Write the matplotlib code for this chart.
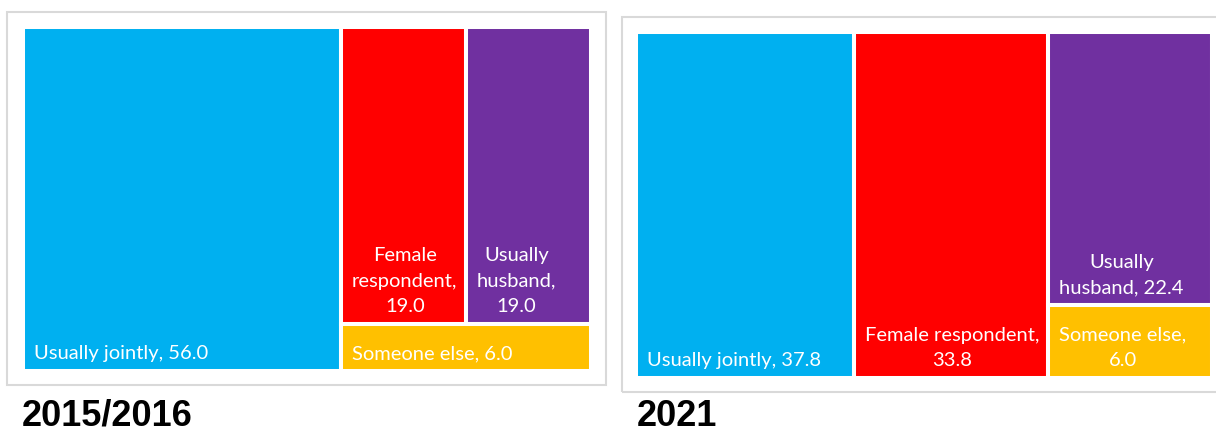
"""
Treemaps: who decides, 2015/2016 vs 2021
"""
import matplotlib

matplotlib.use("Agg")
import matplotlib.pyplot as plt
from matplotlib.patches import Rectangle

# 数据
labels = ["Usually jointly", "Female respondent", "Usually husband", "Someone else"]
values_2015 = [56.0, 19.0, 19.0, 6.0]
values_2021 = [37.8, 33.8, 22.4, 6.0]
colors = ["#00B0F0", "#FF0000", "#7030A0", "#FFC000"]
titles = ["2015/2016", "2021"]

# 分割结构 (h: 左右排, v: 上下排), 只引用序号
tree_2015 = ("h", [0, ("v", [("h", [1, 2]), 3])])
tree_2021 = ("h", [0, 1, ("v", [2, 3])])

W, H = 1216, 435
LABEL_FONT = ["Lato", "DejaVu Sans"]
LABEL_SIZE = 14.5
PAD = 9

fig = plt.figure(figsize=(W / 100, H / 100), dpi=100)
renderer = fig.canvas.get_renderer()


def px_axes(x0, y0, x1, y1):
    return fig.add_axes([x0 / W, 1 - y1 / H, (x1 - x0) / W, (y1 - y0) / H])


def frame(x0, y0, x1, y1):
    fig.add_artist(Rectangle((x0 / W, 1 - y1 / H), (x1 - x0) / W, (y1 - y0) / H,
                             transform=fig.transFigure, facecolor="none",
                             edgecolor="#D9D9D9", linewidth=1.5))


def total(node, values):
    if isinstance(node, int):
        return values[node]
    return sum(total(c, values) for c in node[1])


def layout(node, values, x, y, w, h, out):
    # 按数值比例递归切分矩形
    if isinstance(node, int):
        out[node] = (x, y, w, h)
        return
    direction, children = node
    s = total(node, values)
    pos = 0.0
    for c in children:
        frac = total(c, values) / s
        if direction == "h":
            layout(c, values, x + pos * w, y, frac * w, h, out)
        else:
            layout(c, values, x, y + pos * h, w, frac * h, out)
        pos += frac


def text_width(s):
    t = fig.text(0, 0, s, fontsize=LABEL_SIZE, family=LABEL_FONT)
    wd = t.get_window_extent(renderer).width
    t.remove()
    return wd


def wrap(s, max_w):
    # 按矩形宽度自动换行
    words = s.split(" ")
    lines = [words[0]]
    for wd in words[1:]:
        if text_width(lines[-1] + " " + wd) <= max_w:
            lines[-1] += " " + wd
        else:
            lines.append(wd)
    return "\n".join(lines)


def treemap(box, values, tree):
    x0, y0, x1, y1 = box
    ax = px_axes(x0, y0, x1, y1)
    w, h = x1 - x0, y1 - y0
    ax.set_xlim(0, w)
    ax.set_ylim(h, 0)
    ax.axis("off")
    rects = {}
    layout(tree, values, 0, 0, w, h, rects)
    for i, (rx, ry, rw, rh) in rects.items():
        ax.add_patch(Rectangle((rx, ry), rw, rh, facecolor=colors[i],
                               edgecolor="white", linewidth=2.9))
        txt = wrap(f"{labels[i]}, {values[i]:.1f}", rw - 16)
        ax.text(rx + PAD + 2, ry + rh - PAD - 1, txt, color="white",
                fontsize=LABEL_SIZE, family=LABEL_FONT, ha="left", va="bottom",
                multialignment="center", linespacing=1.6)


# 外框
frame(7, 13, 606, 386)
frame(622, 18, 1222, 393)

treemap((23, 28, 591, 372), values_2015, tree_2015)
treemap((636, 33, 1212, 379), values_2021, tree_2021)

fig.text(22 / W, 1 / H, titles[0], fontsize=26, fontweight="bold",
         family="Liberation Sans", va="bottom")
fig.text(637 / W, 1 / H, titles[1], fontsize=26, fontweight="bold",
         family="Liberation Sans", va="bottom")

fig.savefig("out.png", dpi=100)
